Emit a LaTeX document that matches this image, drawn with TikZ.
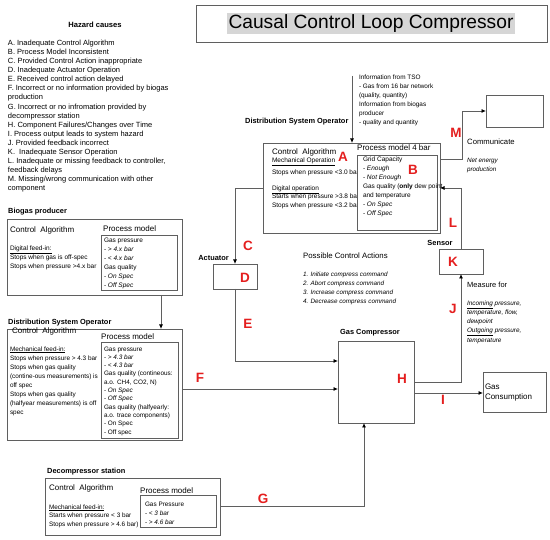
\documentclass[tikz,border=0pt]{standalone}
\usepackage{fontspec}
\setmainfont{Liberation Sans}
\usetikzlibrary{arrows.meta,calc}
\definecolor{lred}{RGB}{228,30,30}
\definecolor{lgray}{RGB}{95,95,95}
\definecolor{titlegray}{RGB}{214,214,214}
\begin{document}
\begin{tikzpicture}[x=1pt,y=-1pt,
 box/.style={draw=lgray, line width=0.8pt, inner sep=0pt, outer sep=0pt, anchor=north west},
 tl/.style={inner sep=0pt, outer sep=0pt, anchor=north west, align=left},
 tw/.style={inner sep=0pt, anchor=west},
 lab/.style={tw, font=\bfseries\fontsize{7.4}{9}\selectfont},
 head/.style={tw, font=\fontsize{8}{10}\selectfont},
 hz/.style={inner sep=0pt, text=lred, font=\bfseries\fontsize{13.5}{13.5}\selectfont},
 conn/.style={draw=lgray, line width=0.8pt},
 arr/.style={conn, -{Latex[length=4.5pt,width=4pt,color=black]}},
 sm/.style={tl, font=\fontsize{6.5}{9}\selectfont},
]
\useasboundingbox (0,0) rectangle (550,540);

% title
\node[box, minimum width=351pt, minimum height=37pt] (titlebox) at (196,5) {};
\node[fill=titlegray, inner sep=1.3pt, font=\fontsize{19.2}{20}\selectfont] (title) at (371,23.5) {Causal Control Loop Compressor};

% hazard causes
\node[inner sep=0pt, font=\bfseries\fontsize{7.6}{9}\selectfont] (hztitle) at (95,25) {Hazard causes};
\node[tl, font=\fontsize{7.5}{9.06}\selectfont] (hzlist) at (8,40.2) {A. Inadequate Control Algorithm\\B. Process Model Inconsistent\\C. Provided Control Action inappropriate\\D. Inadequate Actuator Operation\\E. Received control action delayed\\F. Incorrect or no information provided by biogas\\production\\G. Incorrect or no infromation provided by\\decompressor station\\H. Component Failures/Changes over Time\\I. Process output leads to system hazard\\J. Provided feedback incorrect\\K.\ \ Inadequate Sensor Operation\\L. Inadequate or missing feedback to controller,\\feedback delays\\M. Missing/wrong communication with other\\component};

% biogas producer
\node[lab] (biolab) at (8,212) {Biogas producer};
\node[box, minimum width=175pt, minimum height=76pt] (bio) at (7,219) {};
\node[head] (bioca) at (10,230) {Control\ \ Algorithm};
\node[head] (biopmt) at (103,229) {Process model};
\node[box, fill=white, minimum width=76pt, minimum height=55pt] (biopm) at (101,235) {};
\node[sm] (biopmtx) at (104,237.6) {Gas pressure\\- \textit{> 4.x bar}\\- \textit{< 4.x bar}\\Gas quality\\- \textit{On Spec}\\- \textit{Off Spec}};
\node[sm] (bioalg) at (10,245.6) {\underline{Digital feed-in:}\\Stops when gas is off-spec\\Stops when pressure >4.x bar};

% lower DSO
\node[lab] (dso2lab) at (8,323) {Distribution System Operator};
\node[box, minimum width=175pt, minimum height=111pt] (dso2) at (7,329) {};
\node[head] (dso2ca) at (12,331) {Control\ \ Algorithm};
\node[head] (dso2pmt) at (101,337) {Process model};
\node[box, minimum width=77pt, minimum height=96pt] (dso2pm) at (101,342) {};
\node[sm, font=\fontsize{6.4}{8.3}\selectfont] (dso2pmtx) at (104,346.6) {Gas pressure\\- \textit{> 4.3 bar}\\- \textit{< 4.3 bar}\\Gas quality (contineous:\\a.o. CH4, CO2, N)\\- \textit{On Spec}\\- \textit{Off Spec}\\Gas quality (halfyearly:\\a.o. trace components)\\- On Spec\\- Off spec};
\node[sm, font=\fontsize{6.4}{9}\selectfont] (dso2alg) at (10,346.6) {\underline{Mechanical feed-in:}\\Stops when pressure > 4.3 bar\\Stops when gas quality\\(contine-ous measurements) is\\off spec\\Stops when gas quality\\(halfyear measurements) is off\\spec};

\coordinate (bx) at (161,0);
\draw[arr] (bio.south -| bx) -- (dso2.north -| bx);

% upper DSO
\node[lab] (dso1lab) at (245,122) {Distribution System Operator};
\node[tl, font=\fontsize{6.4}{9}\selectfont] (tsoinfo) at (359,74.6) {Information from TSO\\- Gas from 16 bar network\\(quality, quantity)\\Information from biogas\\producer\\- quality and quantity};
\node[box, minimum width=177pt, minimum height=90pt] (dso1) at (263,143) {};
\coordinate (tsotop) at (352,76);
\draw[arr] (tsotop) -- (tsotop |- dso1.north);
\node[head] (dso1ca) at (272,152) {Control\ \ Algorithm};
\node[sm] (dso1mech) at (272,157.6) {\underline{Mechanical Operation}};
\node[sm] (dso1stop) at (272,169.6) {Stops when pressure <3.0 bar};
\node[sm, font=\fontsize{6.5}{8.5}\selectfont] (dso1dig) at (272,185.6) {\underline{Digital operation}\\Starts when pressure >3.8 bar\\Stops when pressure <3.2 bar};
\node[hz] (hzA) at (343,157) {A};
\node[tw, font=\fontsize{8}{9}\selectfont] (dso1pmt) at (357,148) {Process model 4 bar};
\node[box, fill=white, minimum width=80pt, minimum height=75pt] (dso1pm) at (357,155) {};
\node[sm] (dso1pmtx) at (363,156.6) {Grid Capacity\\- \textit{Enough}\\- \textit{Not Enough}\\Gas quality (\textbf{only} dew point\\and temperature\\- \textit{On Spec}\\- \textit{Off Spec}};
\node[hz] (hzB) at (413,170) {B};

% communicate
\node[box, minimum width=57pt, minimum height=32pt] (comm) at (486,95) {};
\coordinate (my) at (0,159);
\coordinate (mx) at (462,0);
\draw[arr] (dso1.east |- my) -| (mx |- comm.west) -- (comm.west);
\node[hz] (hzM) at (456,133) {M};
\node[tw, font=\fontsize{7.7}{9}\selectfont] (commlab) at (467,142) {Communicate};
\node[sm, font=\itshape\fontsize{6.3}{9}\selectfont] (netenergy) at (467,158.6) {Net energy\\production};

% sensor
\node[box, minimum width=44pt, minimum height=25pt] (sensor) at (439,249) {};
\node[lab, anchor=center] (sensorlab) at (440,243) {Sensor};
\node[hz] (hzK) at (453,262) {K};
\coordinate (ly) at (0,188);
\draw[arr] (sensor.north) |- (dso1.east |- ly);
\node[hz] (hzL) at (453,223) {L};

% actuator
\node[box, minimum width=44pt, minimum height=25pt] (act) at (213,264) {};
\node[lab, anchor=east] (actlab) at (229,258) {Actuator};
\node[hz] (hzD) at (245,278) {D};
\node[hz] (hzC) at (248,246) {C};
\coordinate (cy) at (0,188);
\draw[arr] (dso1.west |- cy) -| (act.north);

% possible control actions
\node[tw, font=\fontsize{7.8}{9}\selectfont] (pcalab) at (303,256) {Possible Control Actions};
\node[sm, font=\itshape\fontsize{6.3}{9.2}\selectfont] (pcalist) at (303,271.6) {1. Initiate compress command\\2. Abort compress command\\3. Increase compress command\\4. Decrease compress command};

% compressor
\node[lab] (complab) at (340,333) {Gas Compressor};
\node[box, minimum width=76pt, minimum height=82pt] (comp) at (338,341) {};
\node[hz] (hzH) at (402,379) {H};
\coordinate (ey) at (0,361);
\draw[arr] (act.south) |- (comp.west |- ey);
\node[hz] (hzE) at (248,324) {E};
\coordinate (fy) at (0,389);
\draw[arr] (dso2.east |- fy) -- (comp.west |- fy);
\node[hz] (hzF) at (200,378) {F};

% J feedback
\coordinate (jy) at (0,382);
\draw[arr] (comp.east |- jy) -| (sensor.south);
\node[hz] (hzJ) at (453,309) {J};
\node[tw, font=\fontsize{7.5}{9}\selectfont] (measlab) at (467,285) {Measure for};
\node[sm, font=\itshape\fontsize{6.4}{9.2}\selectfont] (measlist) at (467,300.6) {\underline{Incoming} pressure,\\temperature, flow,\\dewpoint\\\underline{Outgoing} pressure,\\temperature};

% gas consumption
\node[box, minimum width=63pt, minimum height=40pt] (cons) at (483,372) {};
\node[tl, font=\fontsize{8}{10}\selectfont] (constx) at (485,384.1) {Gas\\Consumption};
\coordinate (iy) at (0,393);
\draw[arr] (comp.east |- iy) -- (cons.west |- iy);
\node[hz] (hzI) at (443,400) {I};

% decompressor
\node[lab] (declab) at (47,472) {Decompressor station};
\node[box, minimum width=175pt, minimum height=57pt] (dec) at (45,478) {};
\node[head] (decca) at (49,488) {Control\ \ Algorithm};
\node[head] (decpmt) at (140,491) {Process model};
\node[box, minimum width=76pt, minimum height=32pt] (decpm) at (140,495) {};
\node[sm, font=\fontsize{6.4}{9}\selectfont] (decpmtx) at (145,501.6) {Gas Pressure\\- \textit{< 3 bar}\\- \textit{> 4.6 bar}};
\node[sm, font=\fontsize{6.4}{8.5}\selectfont] (decalg) at (49,504.6) {\underline{Mechanical feed-in:}\\Starts when pressure < 3 bar\\Stops when pressure > 4.6 bar)};
\coordinate (gy) at (0,506);
\coordinate (gx) at (364,0);
\draw[arr] (dec.east |- gy) -| (gx |- comp.south);
\node[hz] (hzG) at (263,499) {G};
\end{tikzpicture}
\end{document}
